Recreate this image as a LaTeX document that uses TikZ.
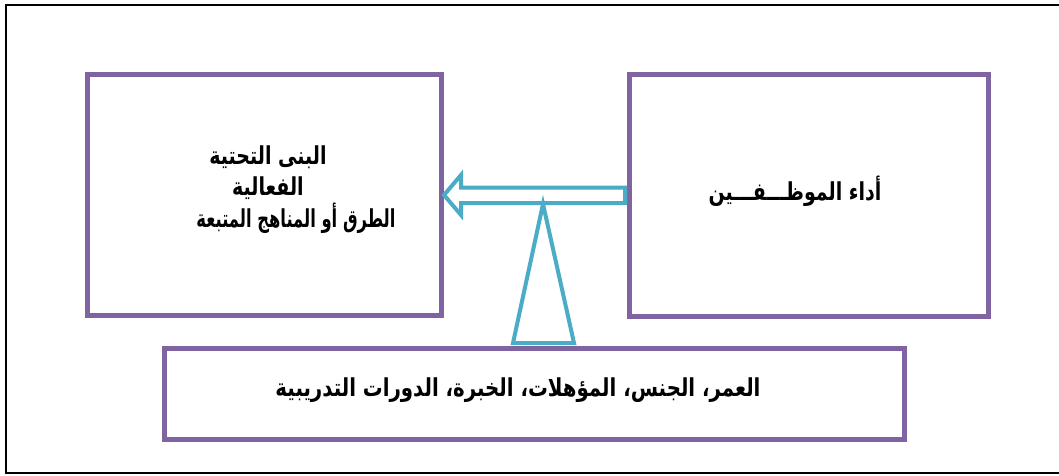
\documentclass[tikz,border=0pt]{standalone}
\usepackage{fontspec}
\newfontfamily\arabicfont[Script=Arabic]{DejaVu Sans}
\TeXXeTstate=1
\definecolor{boxpurple}{HTML}{8064A2}
\definecolor{arrblue}{HTML}{4BACC6}
\newcommand{\artall}[2][1]{\scalebox{#1}[1.3]{\beginR #2\endR}}
\tikzset{
  pbox/.style={draw=boxpurple, line width=5pt, rectangle, inner sep=0pt},
  artext/.style={font=\arabicfont\bfseries\fontsize{19}{22}\selectfont, inner sep=0pt, anchor=base},
  bluepart/.style={draw=arrblue, line width=4pt, line join=miter, fill=white}
}
\begin{document}
\begin{tikzpicture}[x=1pt,y=-1pt]
\useasboundingbox (0,0) rectangle (1059,475);
\draw[line width=2pt] (6,473) -- (6,5) -- (1065,5) -- (1065,473) -- cycle;
\node[pbox, minimum width=353.5pt, minimum height=240.5pt] (lbox) at (264.25,194.75) {};
\node[pbox, minimum width=359.5pt, minimum height=241.5pt] (rbox) at (808.75,195.25) {};
\node[pbox, minimum width=740pt, minimum height=90.5pt] (bbox) at (534.5,393.75) {};
% block arrow from right box to left box
\draw[bluepart] (625,187.5) -- (461,187.5) -- (461,175) -- (444,195) -- (461,215) -- (461,203) -- (625,203) -- cycle;
% triangle
\draw[bluepart] (543,204) -- (574,343) -- (513,343) -- cycle;
\node[artext] (lt1) at (268,164) {\artall{البنى التحتية}};
\node[artext] (lt2) at (268,195) {\artall{الفعالية}};
\node[artext] (lt3) at (296,227) {\artall[0.86]{الطرق أو المناهج المتبعة}};
\node[artext] (rt) at (795,200) {\artall{أداء الموظـــفـــين}};
\node[artext] (bt) at (518,396) {\artall[1.04]{العمر، الجنس، المؤهلات، الخبرة، الدورات التدريبية}};
\end{tikzpicture}
\end{document}
